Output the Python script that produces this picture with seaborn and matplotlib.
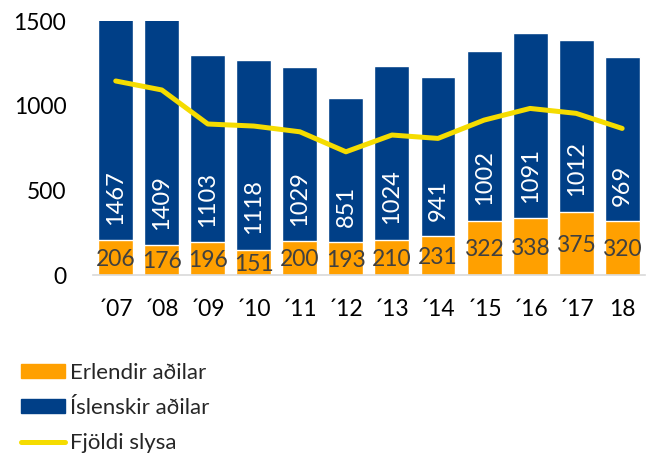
import numpy as np
import pandas as pd
import seaborn as sns
import matplotlib.pyplot as plt
from matplotlib.patches import Patch
from matplotlib.lines import Line2D

years = ["´07", "´08", "´09", "´10", "´11", "´12", "´13", "´14", "´15", "´16", "´17", "18"]
erlendir = [206, 176, 196, 151, 200, 193, 210, 231, 322, 338, 375, 320]
islenskir = [1467, 1409, 1103, 1118, 1029, 851, 1024, 941, 1002, 1091, 1012, 969]
slys = [1146, 1093, 892, 880, 846, 728, 827, 807, 915, 984, 955, 866]

orange = "#FFA000"
navy = "#003F87"
yellow = "#F5DC00"

df = pd.DataFrame({"ar": years, "erl": erlendir, "isl": islenskir, "slys": slys})
df["total"] = df["erl"] + df["isl"]
df["pos"] = np.arange(len(df))

sns.set_style("white")
plt.rcParams["font.family"] = ["Lato", "DejaVu Sans"]

fig = plt.figure(figsize=(6.53, 4.57), dpi=100)
ax = fig.add_axes([0.142, 0.398, 0.846, 0.556])

sns.barplot(data=df, x="ar", y="total", color=navy, width=0.76, saturation=1, ax=ax)
sns.barplot(data=df, x="ar", y="erl", color=orange, width=0.76, saturation=1, ax=ax)
sns.lineplot(x=df["pos"], y=df["slys"], color=yellow, lw=3.6, ax=ax)

for i, r in df.iterrows():
    ax.text(i, r["erl"] / 2 - 10, str(r["erl"]), ha="center", va="center",
            fontsize=16.5, color="#404040")
    ax.annotate(str(r["isl"]), (i, r["erl"]), xytext=(0, 11), textcoords="offset points",
                ha="center", va="bottom", rotation=90, fontsize=17, color="white")

ax.set_ylim(0, 1500)
ax.set_xlim(-0.5, 11.5)
ax.set_yticks([0, 500, 1000, 1500])
ax.set_xlabel("")
ax.set_ylabel("")
ax.tick_params(axis="y", length=0, pad=19, labelsize=16.5, labelcolor="black")
ax.tick_params(axis="x", length=0, pad=17, labelsize=16.5, labelcolor="black")
for s in ["top", "right", "left"]:
    ax.spines[s].set_visible(False)
ax.spines["bottom"].set_color("#D9D9D9")
ax.spines["bottom"].set_linewidth(1.2)

handles = [Patch(color=orange, label="Erlendir aðilar"),
           Patch(color=navy, label="Íslenskir aðilar"),
           Line2D([], [], color=yellow, lw=3.6, label="Fjöldi slysa")]
fig.legend(handles=handles, loc="upper left", bbox_to_anchor=(0.018, 0.225),
           frameon=False, fontsize=16, handlelength=2.0, handletextpad=0.2,
           handleheight=0.6, labelspacing=0.68, borderaxespad=0)

fig.savefig("out.png", dpi=100)
